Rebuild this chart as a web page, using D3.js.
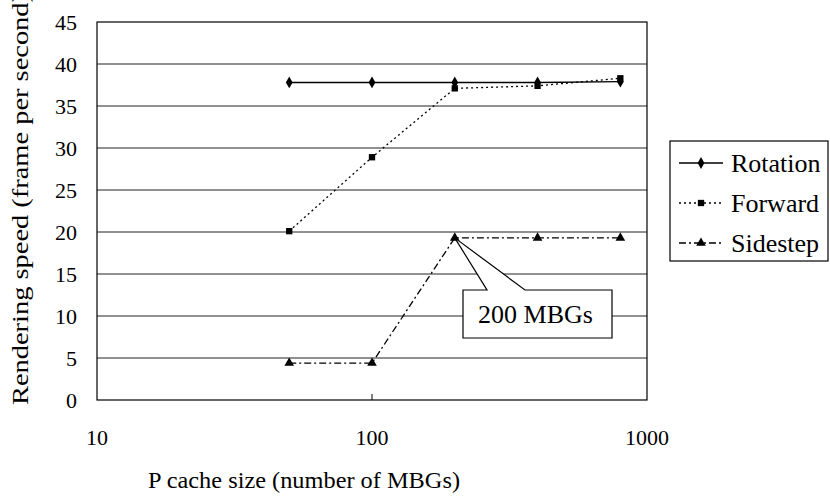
<!DOCTYPE html>
<html>
<head>
<meta charset="utf-8">
<script src="https://cdn.jsdelivr.net/npm/d3@7.9.0/dist/d3.min.js"></script>
<style>
  body { margin: 0; background: #fff; }
  svg text { font-family: "Liberation Serif", "DejaVu Serif", "Noto Serif", Times, serif; }
</style>
</head>
<body>
<svg id="chart" width="830" height="497"></svg>
<script>
// --- data ---
const cacheSizes = [50, 100, 200, 400, 800];
const rotation = [37.8, 37.8, 37.8, 37.8, 37.9];
const forward = [20.1, 28.9, 37.1, 37.4, 38.3];
const sidestep = [4.4, 4.4, 19.3, 19.3, 19.3];
const xTicks = [10, 100, 1000];
const yTicks = d3.range(0, 46, 5);

const series = [
  { name: "Rotation", values: rotation, dash: null, symbol: d3.symbolDiamond },
  { name: "Forward", values: forward, dash: "2,3", symbol: d3.symbolSquare },
  { name: "Sidestep", values: sidestep, dash: "7,3,2,3", symbol: d3.symbolTriangle }
];

const svg = d3.select("#chart");
const plot = { left: 97, right: 647, top: 22, bottom: 400 };

const x = d3.scaleLog().domain([10, 1000]).range([plot.left, plot.right]);
const y = d3.scaleLinear().domain([0, 45]).range([plot.bottom, plot.top]);

// gridlines
svg.append("g")
  .selectAll("line")
  .data(yTicks.filter(d => d > 0 && d < 45))
  .join("line")
  .attr("x1", plot.left).attr("x2", plot.right)
  .attr("y1", d => y(d)).attr("y2", d => y(d))
  .attr("stroke", "#222").attr("stroke-width", 1);

// plot frame
svg.append("rect")
  .attr("x", plot.left).attr("y", plot.top)
  .attr("width", plot.right - plot.left).attr("height", plot.bottom - plot.top)
  .attr("fill", "none").attr("stroke", "#000").attr("stroke-width", 1.2);

// x tick at 100
svg.append("line")
  .attr("x1", x(100)).attr("x2", x(100))
  .attr("y1", plot.bottom).attr("y2", plot.bottom - 6)
  .attr("stroke", "#000");

// y tick labels
svg.append("g")
  .selectAll("text")
  .data(yTicks)
  .join("text")
  .attr("x", 77).attr("y", d => y(d) + 8)
  .attr("text-anchor", "end")
  .attr("font-size", 22)
  .text(d => d);

// x tick labels
svg.append("g")
  .selectAll("text")
  .data(xTicks)
  .join("text")
  .attr("x", d => x(d)).attr("y", 445)
  .attr("text-anchor", "middle")
  .attr("font-size", 22)
  .text(d => d);

// axis titles
svg.append("text")
  .attr("x", 304).attr("y", 488)
  .attr("text-anchor", "middle")
  .attr("font-size", 23)
  .attr("textLength", 312)
  .attr("lengthAdjust", "spacingAndGlyphs")
  .text("P cache size (number of MBGs)");

svg.append("text")
  .attr("transform", "translate(28,405) rotate(-90)")
  .attr("text-anchor", "start")
  .attr("font-size", 24)
  .attr("textLength", 412)
  .attr("lengthAdjust", "spacingAndGlyphs")
  .text("Rendering speed (frame per second)");

// series
const line = d3.line().x(d => x(d[0])).y(d => y(d[1]));
series.forEach(s => {
  const pts = cacheSizes.map((c, i) => [c, s.values[i]]);
  svg.append("path")
    .datum(pts)
    .attr("d", line)
    .attr("fill", "none")
    .attr("stroke", "#000")
    .attr("stroke-width", 1.3)
    .attr("stroke-dasharray", s.dash);
  svg.append("g")
    .selectAll("path")
    .data(pts)
    .join("path")
    .attr("transform", d => `translate(${x(d[0])},${y(d[1])})`)
    .attr("d", d3.symbol().type(s.symbol).size(40))
    .attr("fill", "#000");
});

// callout "200 MBGs"
const px = x(200), py = y(19.3);
const box = { x: 463, y: 290, w: 149, h: 48 };
svg.append("path")
  .attr("d", `M${box.x},${box.y} H${487} L${px},${py} L${525},${box.y} H${box.x + box.w} V${box.y + box.h} H${box.x} Z`)
  .attr("fill", "#fff").attr("stroke", "#000").attr("stroke-width", 1.2);
svg.append("text")
  .attr("x", box.x + box.w / 2 - 2).attr("y", box.y + 33)
  .attr("text-anchor", "middle")
  .attr("font-size", 26)
  .text("200 MBGs");

// legend
const legend = svg.append("g");
legend.append("rect")
  .attr("x", 670).attr("y", 141).attr("width", 158).attr("height", 120)
  .attr("fill", "#fff").attr("stroke", "#000").attr("stroke-width", 1.2);
series.forEach((s, i) => {
  const ly = 163 + i * 40;
  legend.append("line")
    .attr("x1", 679).attr("x2", 723).attr("y1", ly).attr("y2", ly)
    .attr("stroke", "#000").attr("stroke-width", 1.3)
    .attr("stroke-dasharray", s.dash);
  legend.append("path")
    .attr("transform", `translate(701,${ly})`)
    .attr("d", d3.symbol().type(s.symbol).size(40))
    .attr("fill", "#000");
  legend.append("text")
    .attr("x", 731).attr("y", ly + 9)
    .attr("font-size", 26)
    .text(s.name);
});
</script>
</body>
</html>
